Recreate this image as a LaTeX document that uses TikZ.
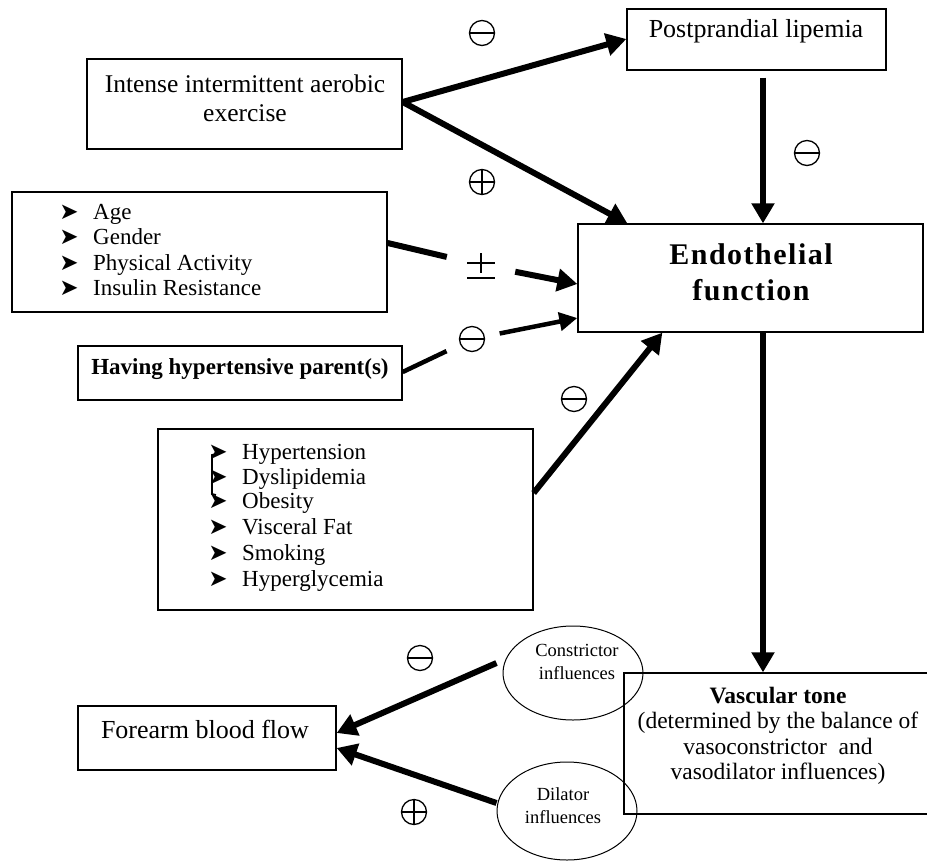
\documentclass[tikz,border=0pt]{standalone}
\usepackage{fontspec}
\setmainfont{Liberation Serif}
\newfontfamily\dejavu{DejaVu Sans}
\newfontfamily\spacedserif[LetterSpace=5]{Liberation Serif}
\usetikzlibrary{arrows.meta,shapes.geometric}

\tikzset{
  box/.style={draw, line width=1.3pt, rectangle, inner sep=0pt},
  txt/.style={inner sep=0pt, align=center},
  item/.style={inner sep=0pt, anchor=base west, font=\fontsize{23}{25}\selectfont},
  bul/.style={inner sep=0pt, anchor=base, font=\dejavu\fontsize{23}{24}\selectfont},
  ell/.style={draw, ellipse, line width=1pt, inner sep=0pt},
  arr/.style={line width=6pt, -{Triangle[length=20pt,width=22pt]}},
  thinarr/.style={line width=4.5pt, -{Triangle[length=18pt,width=18pt]}},
  bar/.style={line width=6pt},
  thinbar/.style={line width=4.5pt},
  minussym/.style={circle, inner sep=0pt, minimum size=#1,
    path picture={
      \draw[line width=1.3pt] (path picture bounding box.center) circle[radius=12.5pt];
      \draw[line width=1.3pt] ([xshift=-12.5pt]path picture bounding box.center) -- ([xshift=12.5pt]path picture bounding box.center);}},
  minussym/.default=30pt,
  plussym/.style={circle, inner sep=0pt, minimum size=#1,
    path picture={
      \draw[line width=1.3pt] (path picture bounding box.center) circle[radius=12.5pt];
      \draw[line width=1.3pt] ([xshift=-12.5pt]path picture bounding box.center) -- ([xshift=12.5pt]path picture bounding box.center);
      \draw[line width=1.3pt] ([yshift=-12.5pt]path picture bounding box.center) -- ([yshift=12.5pt]path picture bounding box.center);}},
  plussym/.default=30pt,
  pmsym/.style={rectangle, inner sep=0pt, minimum width=68pt, minimum height=34pt,
    path picture={
      \draw[line width=1.8pt] ([shift={(-14pt,2pt)}]path picture bounding box.center) -- ([shift={(14pt,2pt)}]path picture bounding box.center);
      \draw[line width=1.8pt] ([shift={(0pt,12pt)}]path picture bounding box.center) -- ([shift={(0pt,-8pt)}]path picture bounding box.center);
      \draw[line width=1.8pt] ([shift={(-14pt,-13pt)}]path picture bounding box.center) -- ([shift={(14pt,-13pt)}]path picture bounding box.center);}},
}

\begin{document}
\begin{tikzpicture}[x=1pt,y=-1pt]
\useasboundingbox (0,0) rectangle (927,863);

% ---------- boxes ----------
\node[box, minimum width=315pt, minimum height=90pt] (intense) at (244.5,104) {};
\node[txt, font=\fontsize{25.5}{29}\selectfont] (intenseT) at (245,98) {Intense intermittent aerobic\\exercise};

\node[box, minimum width=259pt, minimum height=61pt] (post) at (756.5,39.5) {};
\node[txt, font=\fontsize{26}{29}\selectfont] (postT) at (756,31) {Postprandial lipemia};

\node[box, minimum width=375pt, minimum height=120pt] (age) at (199.5,252) {};
\node[bul] (ab1) at (69,219) {➤};
\node[bul] (ab2) at (69,244) {➤};
\node[bul] (ab3) at (69,270) {➤};
\node[bul] (ab4) at (69,295) {➤};
\node[item] (ai1) at (93,219) {Age};
\node[item] (ai2) at (93,244) {Gender};
\node[item] (ai3) at (93,270) {Physical Activity};
\node[item] (ai4) at (93,295) {Insulin Resistance};

\node[box, minimum width=324pt, minimum height=54pt] (having) at (240,373) {};
\node[txt, font=\bfseries\fontsize{23}{25}\selectfont] (havingT) at (240,369) {Having hypertensive parent(s)};

\node[box, minimum width=375pt, minimum height=181pt] (list) at (345.5,519.5) {};
\node[bul] (lb1) at (218,459) {➤};
\node[bul] (lb2) at (218,484) {➤};
\node[bul] (lb3) at (218,508) {➤};
\node[bul] (lb4) at (218,534) {➤};
\node[bul] (lb5) at (218,560) {➤};
\node[bul] (lb6) at (218,586) {➤};
\node[item] (li1) at (242,459) {Hypertension};
\node[item] (li2) at (242,484) {Dyslipidemia};
\node[item] (li3) at (242,508) {Obesity};
\node[item] (li4) at (242,534) {Visceral Fat};
\node[item] (li5) at (242,560) {Smoking};
\node[item] (li6) at (242,586) {Hyperglycemia};
\draw[line width=1.8pt] (216,454) -- (212,455) -- (212,494) -- (216,495);

\node[box, minimum width=345pt, minimum height=108pt] (endo) at (750.5,278) {};
\node[txt, font=\spacedserif\bfseries\fontsize{30}{36}\selectfont] (endoT) at (751,272) {Endothelial\\function};

\node[box, minimum width=258pt, minimum height=64pt] (forearm) at (207,738) {};
\node[txt, font=\fontsize{26}{29}\selectfont] (forearmT) at (205,729) {Forearm blood flow};

\node[box, minimum width=306pt, minimum height=141pt] (vasc) at (777,743.5) {};
\node[txt, font=\fontsize{23.5}{25.5}\selectfont] (vascT) at (778,736) {\textbf{Vascular tone}\\(determined by the balance of\\vasoconstrictor\ \ and\\vasodilator influences)};

\node[ell, minimum width=140pt, minimum height=94pt] (cons) at (573,673) {};
\node[txt, font=\fontsize{18.5}{23}\selectfont] (consT) at (577,662) {Constrictor\\influences};
\node[ell, minimum width=140pt, minimum height=98pt] (dil) at (567,811) {};
\node[txt, font=\fontsize{18.5}{23}\selectfont] (dilT) at (563,806) {Dilator\\influences};

% ---------- sign symbols ----------
\node[minussym] (s1) at (482,33) {};
\node[plussym] (s2) at (482,182) {};
\node[minussym] (s3) at (807,153) {};
\node[pmsym] (pm) at (481,265) {};
\node[minussym=56pt] (s4) at (472,339) {};
\node[minussym] (s5) at (574,399) {};
\node[minussym] (s6) at (420,658) {};
\node[plussym] (s7) at (414,812) {};

% ---------- connectors ----------
\draw[arr] ([yshift=2pt]intense.east) -- ([yshift=0.5pt]post.west);
\draw[arr] ([yshift=2pt]intense.east) -- ([xshift=50pt]endo.north west);
\draw[arr] ([xshift=6.5pt,yshift=-7pt]post.south) -- ([xshift=12.5pt]endo.north);
\draw[bar] ([yshift=9pt]age.east) -- (pm);
\draw[arr] (pm) -- ([yshift=-6pt]endo.west);
\draw[thinbar] ([yshift=1pt]having.east) -- (s4);
\draw[thinarr] (s4) -- ([yshift=-40pt]endo.west);
\draw[arr] ([yshift=26.5pt]list.east) -- ([xshift=85pt]endo.south west);
\draw[arr] ([xshift=12.5pt]endo.south) -- ([xshift=-14pt]vasc.north);
\draw[arr] ([xshift=-6pt,yshift=10pt]cons.west) -- ([yshift=5pt]forearm.east);
\draw[arr] ([yshift=8pt]dil.west) -- ([yshift=-10pt]forearm.east);
\end{tikzpicture}
\end{document}
